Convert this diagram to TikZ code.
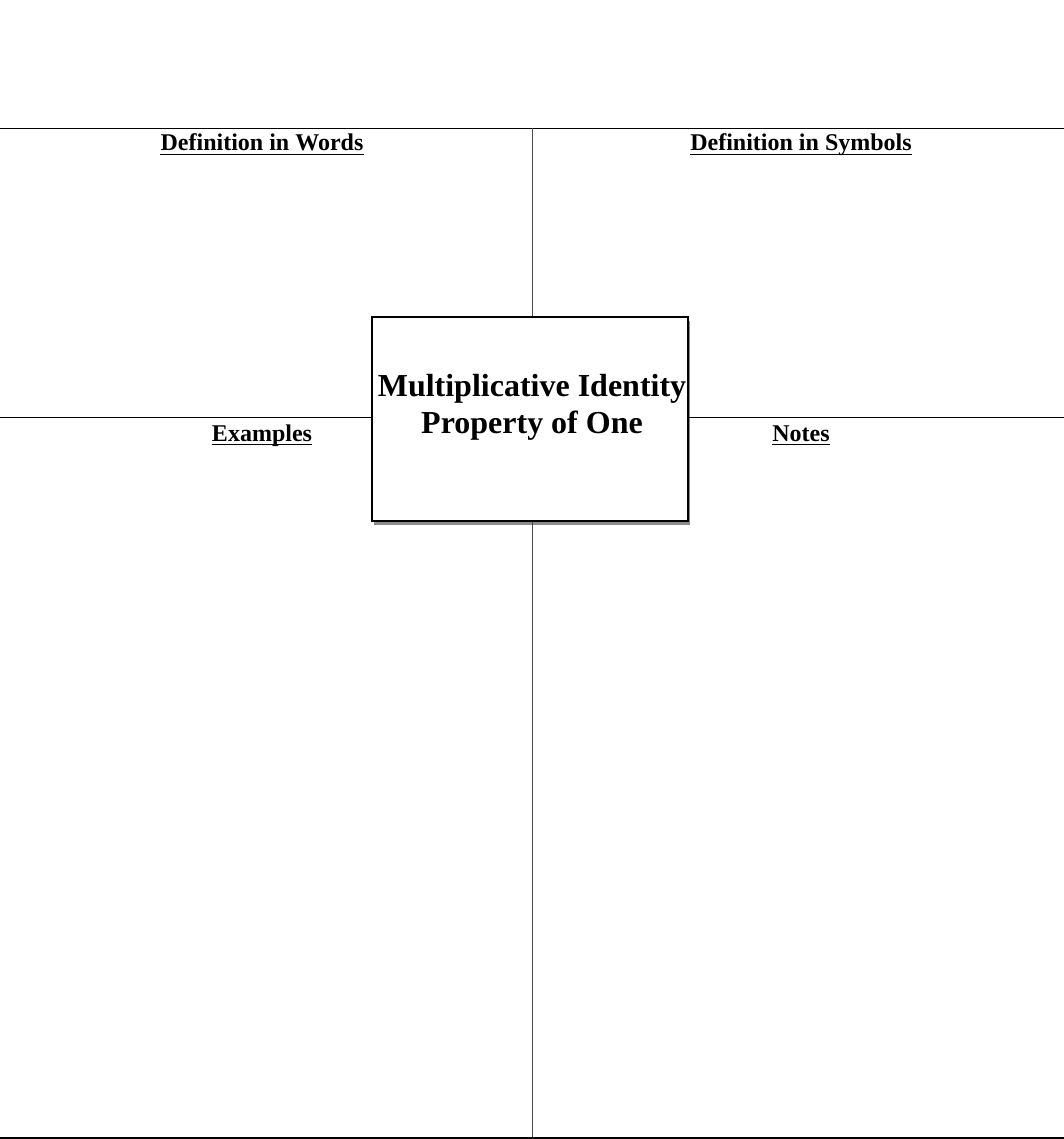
\documentclass[tikz,border=0pt]{standalone}
\usepackage{fontspec}
\setmainfont{Liberation Serif}
\usetikzlibrary{shadows}
\tikzset{
  heading/.style={font=\fontsize{24}{28}\selectfont\bfseries, inner sep=0pt, anchor=base},
  titlebox/.style={draw=black, line width=1.2pt, fill=white, minimum width=316pt, minimum height=204pt,
    drop shadow={shadow xshift=1.5pt, shadow yshift=-4pt, fill=black!75, opacity=0.6}},
  rule/.style={line width=0.8pt},
  uline/.style={line width=1.4pt}
}
\begin{document}
\begin{tikzpicture}[x=1pt,y=-1pt]
        \useasboundingbox (0,0) rectangle (1064,1139);
        % frame of the four squares
        \coordinate (tl) at (0,128);
        \coordinate (tr) at (1064,128);
        \coordinate (ml) at (0,417);
        \coordinate (mr) at (1064,417);
        \coordinate (bl) at (0,1138);
        \coordinate (br) at (1064,1138);
        \coordinate (vt) at (532,128);
        \coordinate (vb) at (532,1139);
        \draw[rule] (tl)--(tr);
        \draw[rule] (ml)--(mr);
        \draw[rule,black!70] (vt)--(vb);
        \draw[line width=1.6pt] (bl)--(br);
        % centre box
        \node[titlebox] (title) at (530,419) {};
        \node[font=\fontsize{32}{37}\selectfont\bfseries, inner sep=0pt, anchor=base] (name1) at (532,396) {Multiplicative Identity};
        \node[font=\fontsize{32}{37}\selectfont\bfseries, inner sep=0pt, anchor=base] (name2) at (532,433) {Property of One};
        % headings
        \node[heading] (words) at (262,151) {Definition in Words};
        \node[heading] (symbols) at (801,151) {Definition in Symbols};
        \node[heading] (examples) at (262,441) {Examples};
        \node[heading] (notes) at (801,441) {Notes};
        % underlines
        \foreach \h in {words,symbols,examples,notes}
          \draw[uline] ([yshift=-3.5pt]\h.base west) -- ([yshift=-3.5pt]\h.base east);
    \end{tikzpicture}
\end{document}
